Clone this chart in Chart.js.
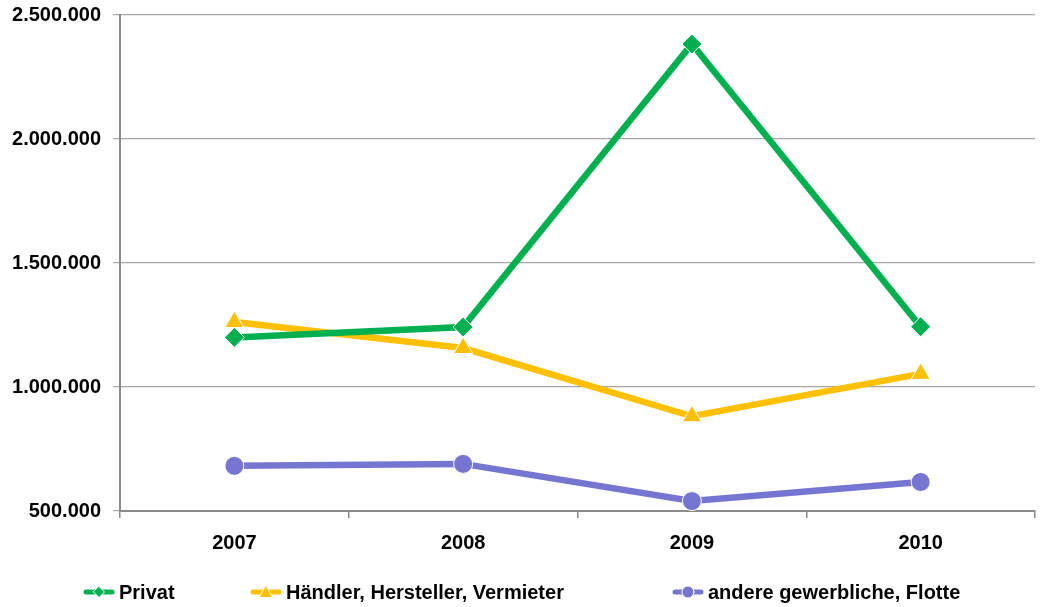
<!DOCTYPE html>
<html>
<head>
<meta charset="utf-8">
<script src="https://cdn.jsdelivr.net/npm/chart.js@4/dist/chart.umd.min.js"></script>
<style>
  html, body { margin: 0; padding: 0; background: #fff; overflow: hidden; }
  #wrap { position: relative; width: 1044px; height: 607px; }
  #myChart { position: absolute; left: 0; top: 0; }
  #legend {
    position: absolute; left: 83px; top: 580px; height: 24px;
    display: flex; align-items: center;
    font: bold 20px "Liberation Sans", Arial, sans-serif; color: #000;
  }
  .item { display: flex; align-items: center; white-space: nowrap; }
  .item canvas { margin-right: 4px; }
</style>
</head>
<body>
<div id="wrap">
  <canvas id="myChart" width="1044" height="607"></canvas>
  <div id="legend"></div>
</div>
<script>
const years = ['2007', '2008', '2009', '2010'];
const privat = [1200000, 1242000, 2383000, 1243000];
const haendler = [1262000, 1157000, 882000, 1053000];
const andere = [682000, 690000, 540000, 617000];
const seriesNames = ['Privat', 'Händler, Hersteller, Vermieter', 'andere gewerbliche, Flotte'];
const yMin = 500000;
const yMax = 2500000;
const yStep = 500000;

const green = '#00B050';
const yellow = '#FFC000';
const purple = '#7676D2';
const colors = [green, yellow, purple];
const markers = ['rectRot', 'triangle', 'circle'];
const itemWidths = [167, 422, 0];

// format like 2.500.000
function deNumber(v) {
    return String(v).replace(/\B(?=(\d{3})+(?!\d))/g, '.');
}

// little legend sample: line with the marker in the middle
function legendIcon(color, style) {
    const c = document.createElement('canvas');
    c.width = 32;
    c.height = 14;
    const g = c.getContext('2d');
    g.strokeStyle = color;
    g.lineWidth = 5;
    g.lineCap = 'round';
    g.beginPath();
    g.moveTo(3, 7);
    g.lineTo(29, 7);
    g.stroke();
    g.fillStyle = color;
    g.strokeStyle = '#fff';
    g.lineWidth = 1;
    g.beginPath();
    if (style === 'rectRot') {
        g.moveTo(16, 1.5); g.lineTo(21.5, 7); g.lineTo(16, 12.5); g.lineTo(10.5, 7);
    } else if (style === 'triangle') {
        g.moveTo(16, 0.5); g.lineTo(22.5, 12.5); g.lineTo(9.5, 12.5);
    } else {
        g.arc(16, 7, 6, 0, Math.PI * 2);
    }
    g.closePath();
    g.fill();
    g.stroke();
    return c;
}

const legendEl = document.getElementById('legend');
for (let i = 0; i < seriesNames.length; i++) {
    const item = document.createElement('div');
    item.className = 'item';
    if (itemWidths[i]) item.style.width = itemWidths[i] + 'px';
    item.appendChild(legendIcon(colors[i], markers[i]));
    const span = document.createElement('span');
    span.textContent = seriesNames[i];
    item.appendChild(span);
    legendEl.appendChild(item);
}

const FONT = 'Liberation Sans, Arial, sans-serif';
const radii = [10, 11, 9.5];
const series = [privat, haendler, andere];

const datasets = [];
for (let i = 0; i < series.length; i++) {
    datasets.push({
        label: seriesNames[i],
        data: series[i],
        borderColor: colors[i],
        backgroundColor: colors[i],
        pointBackgroundColor: colors[i],
        pointBorderColor: '#fff',
        pointBorderWidth: 1,
        borderWidth: 6.5,
        pointStyle: markers[i],
        pointRadius: radii[i],
    });
}

const ctx = document.getElementById('myChart').getContext('2d');
new Chart(ctx, {
    type: 'line',
    data: { labels: years, datasets: datasets },
    options: {
        responsive: false,
        animation: false,
        layout: { autoPadding: false, padding: { left: 0, right: 9, top: 0, bottom: 0 } },
        plugins: {
            tooltip: { enabled: false },
            legend: { display: false }
        },
        scales: {
            x: {
                offset: true,
                afterFit: function (scale) {
                    scale.height = 96;
                    scale.paddingLeft = 0;
                    scale.paddingRight = 0;
                },
                grid: {
                    offset: true,
                    drawOnChartArea: false,
                    drawTicks: true,
                    tickLength: 7,
                    color: '#8a8a8a',
                    lineWidth: 1.5
                },
                border: { color: '#8a8a8a', width: 2 },
                ticks: {
                    color: '#000',
                    padding: 13,
                    font: { family: FONT, size: 20, weight: 'bold' }
                }
            },
            y: {
                min: yMin,
                max: yMax,
                afterFit: function (scale) {
                    scale.width = 120;
                    scale.paddingTop = 15;
                    scale.paddingBottom = 0;
                },
                grid: {
                    color: '#a6a6a6',
                    lineWidth: 1.2,
                    tickLength: 7
                },
                border: { color: '#8a8a8a', width: 2 },
                ticks: {
                    stepSize: yStep,
                    color: '#000',
                    padding: 12,
                    font: { family: FONT, size: 20, weight: 'bold' },
                    callback: function (v) { return deNumber(v); }
                }
            }
        }
    }
});
</script>
</body>
</html>
